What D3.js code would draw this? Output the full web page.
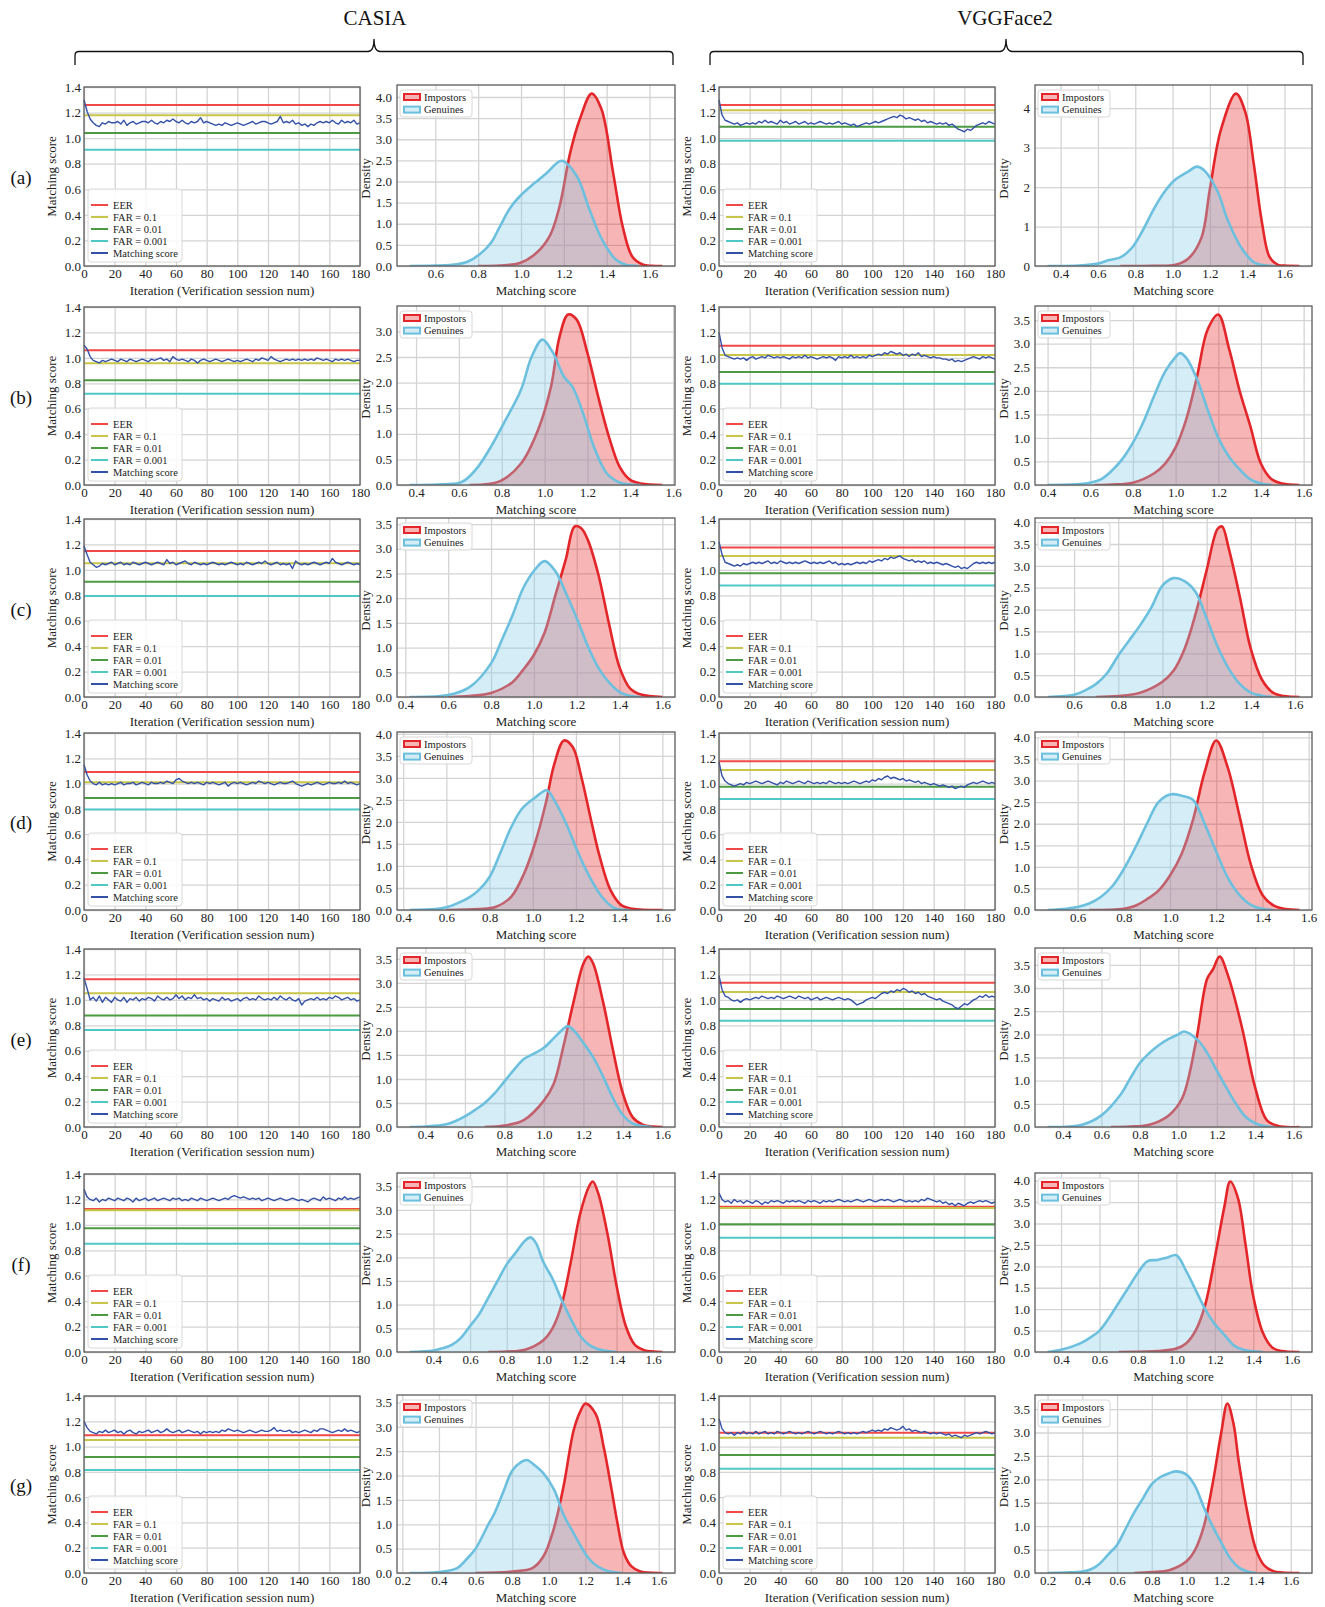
<!DOCTYPE html>
<html>
<head>
<meta charset="utf-8">
<script src="https://cdn.jsdelivr.net/npm/d3@7"></script>
<style>
  body { margin: 0; background: #fff; }
  svg { display: block; }
</style>
</head>
<body>
<svg id="canvas"></svg>
<script>
// ---------- data ----------
const rowNames = ["(a)", "(b)", "(c)", "(d)", "(e)", "(f)", "(g)"];
const datasetNames = ["CASIA", "VGGFace2"];
const iterTicks = [0, 20, 40, 60, 80, 100, 120, 140, 160, 180];
const scoreTicks = [0, 0.2, 0.4, 0.6, 0.8, 1.0, 1.2, 1.4];
const legendNames = ["EER", "FAR = 0.1", "FAR = 0.01", "FAR = 0.001", "Matching score"];
const densityNames = ["Impostors", "Genuines"];

// thresholds per row: [EER, FAR=0.1, FAR=0.01, FAR=0.001]
const casiaThresholds = [
  [1.26, 1.18, 1.04, 0.91],
  [1.06, 0.957, 0.824, 0.718],
  [1.149, 1.052, 0.907, 0.795],
  [1.092, 1.011, 0.885, 0.795],
  [1.162, 1.052, 0.876, 0.763],
  [1.125, 1.115, 0.973, 0.852],
  [1.089, 1.052, 0.918, 0.815],
];
const vggThresholds = [
  [1.259, 1.218, 1.089, 0.98],
  [1.096, 1.023, 0.889, 0.797],
  [1.175, 1.109, 0.973, 0.876],
  [1.177, 1.108, 0.974, 0.877],
  [1.135, 1.062, 0.928, 0.836],
  [1.143, 1.133, 1.005, 0.899],
  [1.11, 1.07, 0.934, 0.825],
];

// matching score, every 2nd verification session (0..180)
const casiaScores = [
  [1.30,1.21,1.15,1.12,1.10,1.09,1.12,1.11,1.13,1.12,1.12,1.13,1.11,1.14,1.10,1.12,1.13,1.11,1.12,1.13,1.13,1.12,1.14,1.12,1.11,1.13,1.12,1.14,1.13,1.15,1.13,1.12,1.14,1.12,1.11,1.13,1.12,1.13,1.16,1.12,1.13,1.12,1.11,1.10,1.11,1.10,1.12,1.11,1.10,1.11,1.12,1.11,1.10,1.11,1.12,1.13,1.11,1.12,1.13,1.13,1.12,1.11,1.12,1.13,1.17,1.12,1.13,1.12,1.14,1.11,1.12,1.10,1.11,1.09,1.11,1.10,1.12,1.13,1.12,1.13,1.12,1.14,1.12,1.11,1.14,1.12,1.13,1.12,1.14,1.11,1.12],
  [1.10,1.07,1.01,0.98,0.97,0.96,0.98,0.97,0.98,0.99,0.98,0.97,0.99,0.98,0.97,0.99,0.98,0.97,0.98,0.99,0.98,0.97,0.99,0.98,0.99,1.00,0.98,0.99,0.97,1.01,0.99,0.98,0.99,0.98,0.97,0.99,0.98,0.96,0.98,0.99,0.98,0.97,0.98,0.99,0.98,0.97,0.98,0.99,0.98,0.97,0.98,0.97,0.98,0.99,0.98,0.97,0.99,0.98,1.00,0.99,0.98,1.01,0.99,0.98,0.97,0.98,0.99,0.98,0.99,0.98,0.99,0.98,0.99,0.98,0.99,0.98,1.00,0.99,0.98,0.99,0.98,0.97,0.99,0.98,0.99,0.98,0.99,0.98,0.97,0.98,0.98],
  [1.19,1.12,1.06,1.04,1.02,1.03,1.05,1.04,1.05,1.06,1.04,1.05,1.06,1.04,1.05,1.04,1.06,1.05,1.04,1.05,1.06,1.05,1.04,1.05,1.06,1.05,1.04,1.08,1.05,1.06,1.04,1.05,1.06,1.07,1.05,1.04,1.06,1.05,1.04,1.05,1.04,1.05,1.06,1.05,1.04,1.05,1.04,1.05,1.06,1.05,1.04,1.05,1.04,1.06,1.05,1.04,1.05,1.06,1.05,1.07,1.05,1.04,1.05,1.06,1.04,1.05,1.04,1.05,1.01,1.07,1.05,1.04,1.05,1.04,1.05,1.06,1.05,1.04,1.05,1.06,1.05,1.09,1.06,1.05,1.04,1.05,1.06,1.05,1.04,1.05,1.04],
  [1.15,1.07,1.02,1.00,0.99,1.01,0.99,1.00,0.99,1.00,0.99,1.00,1.01,0.99,1.00,1.00,1.01,0.99,1.00,1.01,1.00,0.99,1.01,1.00,1.00,1.01,1.00,1.02,1.01,1.00,1.03,1.04,1.02,1.01,1.00,1.01,1.00,1.01,1.00,0.99,1.01,1.00,1.01,1.00,0.99,1.00,1.01,0.98,1.00,1.01,1.00,1.01,1.00,0.99,1.00,1.01,1.00,1.02,1.01,1.00,1.01,1.00,0.99,1.00,1.01,1.00,1.00,1.01,1.02,1.00,0.99,0.98,0.99,1.00,0.99,1.00,1.01,1.00,0.99,1.00,1.01,1.00,1.00,1.01,1.00,1.02,1.00,1.01,1.00,0.99,1.00],
  [1.17,1.09,1.00,1.02,0.99,1.03,0.98,1.02,1.00,0.98,1.02,1.00,0.99,1.02,0.98,1.01,1.00,1.02,0.99,1.01,1.00,1.02,1.01,0.99,1.03,1.01,1.00,1.02,1.00,1.01,1.04,1.01,1.03,1.00,1.02,1.01,1.04,1.01,1.02,1.00,1.01,0.99,1.01,1.00,0.99,1.02,1.00,1.01,0.99,1.00,1.01,0.99,1.01,1.02,1.00,1.01,1.00,1.03,1.01,1.00,1.01,1.00,1.02,1.00,1.03,1.01,1.00,1.02,1.00,0.99,1.01,0.96,0.99,1.00,1.01,1.00,1.02,1.00,1.01,1.00,1.02,1.01,1.03,1.02,1.00,1.01,1.02,1.00,1.01,0.99,1.00],
  [1.28,1.22,1.20,1.19,1.21,1.18,1.20,1.19,1.21,1.20,1.19,1.21,1.20,1.19,1.21,1.20,1.18,1.21,1.19,1.20,1.21,1.19,1.20,1.21,1.19,1.20,1.21,1.20,1.19,1.21,1.20,1.21,1.19,1.20,1.19,1.21,1.20,1.19,1.21,1.20,1.19,1.20,1.21,1.20,1.19,1.20,1.21,1.20,1.22,1.23,1.22,1.21,1.22,1.21,1.20,1.21,1.20,1.21,1.19,1.20,1.21,1.20,1.19,1.20,1.21,1.20,1.19,1.20,1.21,1.20,1.19,1.20,1.19,1.18,1.20,1.21,1.20,1.19,1.22,1.20,1.21,1.20,1.19,1.21,1.20,1.22,1.20,1.21,1.20,1.21,1.22],
  [1.20,1.15,1.12,1.11,1.10,1.12,1.11,1.13,1.11,1.12,1.13,1.11,1.12,1.10,1.12,1.13,1.11,1.10,1.12,1.11,1.12,1.13,1.11,1.12,1.13,1.11,1.12,1.14,1.12,1.11,1.12,1.13,1.11,1.12,1.13,1.12,1.11,1.12,1.10,1.12,1.11,1.12,1.11,1.12,1.11,1.13,1.12,1.14,1.13,1.12,1.13,1.12,1.11,1.12,1.13,1.12,1.11,1.12,1.13,1.12,1.12,1.13,1.15,1.12,1.13,1.12,1.12,1.13,1.11,1.12,1.11,1.12,1.13,1.12,1.11,1.13,1.12,1.14,1.14,1.13,1.12,1.11,1.12,1.13,1.12,1.14,1.12,1.13,1.12,1.11,1.12],
];
const vggScores = [
  [1.30,1.18,1.14,1.13,1.12,1.11,1.12,1.10,1.11,1.12,1.11,1.12,1.11,1.13,1.12,1.14,1.12,1.13,1.12,1.11,1.14,1.12,1.13,1.11,1.12,1.13,1.11,1.12,1.13,1.11,1.12,1.11,1.12,1.13,1.12,1.11,1.12,1.11,1.12,1.13,1.11,1.12,1.11,1.10,1.11,1.09,1.10,1.11,1.12,1.11,1.12,1.13,1.12,1.13,1.14,1.15,1.16,1.17,1.16,1.18,1.17,1.15,1.16,1.15,1.14,1.15,1.13,1.14,1.12,1.13,1.12,1.11,1.12,1.11,1.12,1.10,1.11,1.09,1.07,1.06,1.05,1.07,1.06,1.08,1.10,1.11,1.12,1.11,1.13,1.12,1.11],
  [1.20,1.08,1.02,1.01,1.00,0.99,1.00,0.99,1.00,0.98,1.00,1.01,0.99,1.00,1.01,1.00,1.02,1.01,1.00,1.01,1.00,1.01,1.00,0.99,1.01,1.00,1.01,1.00,1.02,1.00,1.01,1.00,0.99,1.00,1.01,1.00,1.01,1.00,0.98,1.01,1.00,1.01,1.00,1.02,1.00,1.01,1.00,1.01,1.00,1.02,1.01,1.02,1.03,1.02,1.04,1.03,1.05,1.04,1.03,1.04,1.02,1.03,1.01,1.03,1.02,1.04,1.01,1.02,1.01,1.00,1.01,1.00,1.00,0.99,0.99,0.98,0.99,0.97,0.98,0.97,0.98,0.99,1.00,1.01,1.00,0.99,1.01,1.00,1.01,1.00,0.99],
  [1.22,1.12,1.06,1.05,1.04,1.03,1.04,1.03,1.05,1.04,1.05,1.06,1.05,1.06,1.05,1.06,1.07,1.05,1.06,1.05,1.07,1.06,1.05,1.06,1.05,1.06,1.05,1.06,1.07,1.06,1.05,1.06,1.05,1.06,1.05,1.06,1.07,1.05,1.06,1.04,1.05,1.04,1.05,1.04,1.05,1.06,1.05,1.06,1.05,1.07,1.06,1.07,1.08,1.07,1.09,1.08,1.10,1.09,1.10,1.11,1.09,1.08,1.07,1.08,1.06,1.07,1.06,1.07,1.05,1.06,1.05,1.06,1.05,1.04,1.05,1.04,1.03,1.02,1.03,1.01,1.02,1.01,1.03,1.05,1.06,1.05,1.06,1.05,1.06,1.05,1.06],
  [1.17,1.06,1.02,1.00,0.99,0.98,0.99,1.00,0.99,1.01,1.00,1.01,1.02,1.01,1.00,1.01,1.02,1.01,1.00,0.99,1.01,1.00,1.02,1.01,1.00,1.01,1.02,1.01,1.00,1.02,1.01,1.00,1.01,1.00,1.01,1.00,1.02,1.01,1.00,1.01,1.00,1.01,1.00,1.01,1.02,1.01,1.00,1.01,1.02,1.01,1.03,1.02,1.04,1.03,1.05,1.06,1.04,1.05,1.04,1.03,1.04,1.02,1.03,1.02,1.01,1.02,1.00,1.01,1.00,0.99,1.00,0.99,0.98,0.99,0.98,0.97,0.98,0.96,0.97,0.98,0.97,0.99,1.00,1.01,1.00,1.01,1.02,1.01,1.00,1.01,1.00],
  [1.19,1.08,1.03,1.02,1.00,0.99,1.00,0.98,1.00,1.01,1.00,1.01,1.02,1.01,1.03,1.02,1.01,1.02,1.01,1.03,1.02,1.01,1.02,1.03,1.02,1.01,1.03,1.02,1.01,1.02,1.00,1.01,1.02,1.00,1.01,1.02,1.01,1.00,1.01,1.02,1.01,1.00,1.01,1.00,0.98,0.96,0.97,0.98,1.00,1.01,1.02,1.01,1.03,1.05,1.06,1.05,1.07,1.06,1.08,1.07,1.09,1.08,1.06,1.07,1.05,1.06,1.04,1.05,1.03,1.02,1.01,1.00,1.01,0.99,0.98,0.97,0.96,0.94,0.93,0.95,0.97,0.96,0.98,1.00,1.01,1.03,1.02,1.04,1.02,1.03,1.02],
  [1.25,1.20,1.18,1.19,1.17,1.20,1.18,1.19,1.17,1.19,1.18,1.17,1.19,1.18,1.16,1.18,1.17,1.19,1.18,1.19,1.18,1.17,1.19,1.18,1.19,1.18,1.19,1.18,1.17,1.19,1.18,1.19,1.18,1.17,1.19,1.18,1.19,1.18,1.19,1.20,1.19,1.18,1.19,1.18,1.19,1.20,1.19,1.18,1.19,1.20,1.19,1.18,1.19,1.20,1.19,1.20,1.19,1.18,1.19,1.20,1.19,1.18,1.19,1.18,1.19,1.18,1.20,1.19,1.21,1.20,1.19,1.18,1.19,1.17,1.18,1.16,1.17,1.15,1.17,1.16,1.15,1.17,1.18,1.17,1.18,1.19,1.18,1.19,1.18,1.17,1.18],
  [1.22,1.14,1.11,1.10,1.11,1.09,1.11,1.10,1.12,1.10,1.11,1.10,1.12,1.10,1.11,1.12,1.10,1.11,1.10,1.12,1.11,1.10,1.11,1.12,1.11,1.10,1.11,1.10,1.11,1.12,1.11,1.10,1.11,1.12,1.11,1.10,1.11,1.10,1.11,1.12,1.11,1.10,1.11,1.10,1.11,1.10,1.11,1.12,1.11,1.12,1.13,1.12,1.13,1.12,1.14,1.13,1.15,1.14,1.13,1.14,1.16,1.13,1.14,1.12,1.13,1.12,1.11,1.12,1.11,1.10,1.11,1.10,1.11,1.10,1.09,1.10,1.08,1.09,1.08,1.07,1.09,1.08,1.09,1.10,1.11,1.10,1.11,1.12,1.11,1.10,1.11],
];

// density curves: [matching score, density]
const casiaImpostors = [
  [[0.8,0],[0.9,0.01],[0.995,0.07],[1.07,0.3],[1.135,0.72],[1.18,1.41],[1.23,2.69],[1.275,3.48],[1.33,4.08],[1.375,3.72],[1.43,2.21],[1.475,0.93],[1.52,0.22],[1.57,0.03],[1.61,0.005],[1.66,0]],
  [[0.65,0],[0.79,0.07],[0.89,0.42],[0.97,1.08],[1.03,1.92],[1.07,2.9],[1.11,3.33],[1.15,3.23],[1.2,2.58],[1.25,1.73],[1.3,0.95],[1.35,0.36],[1.4,0.1],[1.45,0.03],[1.55,0]],
  [[0.6,0],[0.7,0.02],[0.8,0.08],[0.9,0.3],[0.95,0.55],[1.0,0.85],[1.05,1.3],[1.1,2.05],[1.15,2.8],[1.19,3.45],[1.22,3.42],[1.25,3.2],[1.3,2.5],[1.35,1.5],[1.4,0.6],[1.45,0.17],[1.5,0.05],[1.6,0]],
  [[0.6,0],[0.75,0.02],[0.83,0.075],[0.9,0.3],[0.96,0.83],[1.01,1.51],[1.06,2.42],[1.1,3.32],[1.145,3.85],[1.185,3.7],[1.225,3.02],[1.27,2.04],[1.31,1.21],[1.36,0.45],[1.41,0.11],[1.46,0.03],[1.6,0]],
  [[0.7,0],[0.8,0.03],[0.9,0.15],[1.0,0.55],[1.05,0.9],[1.1,1.7],[1.15,2.6],[1.2,3.4],[1.225,3.55],[1.25,3.4],[1.3,2.6],[1.35,1.6],[1.4,0.7],[1.45,0.2],[1.5,0.05],[1.55,0.01],[1.6,0]],
  [[0.7,0],[0.8,0.01],[0.9,0.05],[1.0,0.25],[1.05,0.5],[1.1,1.0],[1.15,1.9],[1.2,2.9],[1.25,3.5],[1.27,3.6],[1.3,3.35],[1.35,2.5],[1.4,1.4],[1.45,0.55],[1.5,0.15],[1.55,0.04],[1.6,0.01],[1.65,0]],
  [[0.6,0],[0.8,0.03],[0.91,0.1],[0.97,0.34],[1.025,0.88],[1.08,1.77],[1.135,2.92],[1.17,3.3],[1.2,3.48],[1.255,3.27],[1.3,2.58],[1.34,1.77],[1.375,1.02],[1.41,0.41],[1.45,0.14],[1.5,0.03],[1.62,0]],
];
const casiaGenuines = [
  [[0.48,0],[0.6,0.01],[0.7,0.04],[0.75,0.1],[0.81,0.29],[0.86,0.55],[0.9,0.92],[0.95,1.38],[1.0,1.68],[1.06,1.95],[1.12,2.2],[1.19,2.49],[1.26,2.13],[1.32,1.33],[1.38,0.61],[1.445,0.14],[1.49,0.03],[1.55,0]],
  [[0.37,0],[0.5,0.01],[0.6,0.04],[0.63,0.1],[0.69,0.36],[0.75,0.75],[0.81,1.21],[0.89,1.86],[0.94,2.51],[0.99,2.84],[1.04,2.58],[1.09,2.12],[1.13,1.92],[1.18,1.4],[1.23,0.75],[1.29,0.23],[1.35,0.05],[1.4,0.01],[1.45,0]],
  [[0.42,0],[0.6,0.04],[0.7,0.2],[0.8,0.68],[0.85,1.15],[0.9,1.65],[0.95,2.2],[1.0,2.55],[1.05,2.75],[1.1,2.55],[1.15,2.1],[1.2,1.6],[1.25,1.05],[1.3,0.6],[1.35,0.3],[1.4,0.1],[1.45,0.02],[1.5,0]],
  [[0.43,0],[0.55,0.02],[0.6,0.06],[0.65,0.15],[0.71,0.3],[0.75,0.45],[0.8,0.75],[0.85,1.3],[0.9,1.88],[0.95,2.3],[1.01,2.55],[1.065,2.72],[1.1,2.49],[1.155,1.96],[1.205,1.36],[1.255,0.83],[1.32,0.3],[1.38,0.04],[1.45,0]],
  [[0.32,0],[0.4,0.01],[0.5,0.05],[0.55,0.12],[0.6,0.22],[0.65,0.35],[0.7,0.5],[0.75,0.7],[0.8,0.95],[0.85,1.2],[0.9,1.42],[0.95,1.53],[1.0,1.65],[1.05,1.85],[1.1,2.05],[1.12,2.1],[1.15,2.02],[1.2,1.75],[1.25,1.45],[1.3,1.05],[1.35,0.6],[1.4,0.25],[1.45,0.07],[1.5,0.02],[1.55,0]],
  [[0.27,0],[0.4,0.03],[0.45,0.08],[0.5,0.15],[0.55,0.3],[0.6,0.55],[0.65,0.8],[0.7,1.15],[0.75,1.5],[0.8,1.85],[0.85,2.1],[0.9,2.35],[0.93,2.42],[0.96,2.3],[1.0,1.9],[1.05,1.55],[1.1,1.1],[1.15,0.7],[1.2,0.35],[1.25,0.15],[1.3,0.06],[1.35,0.02],[1.4,0]],
  [[0.24,0],[0.4,0.02],[0.5,0.1],[0.55,0.28],[0.6,0.5],[0.67,1.0],[0.7,1.2],[0.75,1.65],[0.8,2.1],[0.85,2.28],[0.88,2.32],[0.92,2.22],[0.97,2.05],[1.03,1.7],[1.08,1.2],[1.135,0.82],[1.21,0.34],[1.25,0.18],[1.3,0.07],[1.35,0.02],[1.4,0]],
];
const vggImpostors = [
  [[0.72,0],[0.9,0.005],[1.015,0.03],[1.085,0.19],[1.155,0.72],[1.2,1.95],[1.26,3.47],[1.34,4.37],[1.39,3.9],[1.435,2.6],[1.48,1.08],[1.52,0.23],[1.565,0.03],[1.6,0.01],[1.68,0]],
  [[0.62,0],[0.7,0.01],[0.8,0.05],[0.9,0.25],[0.95,0.45],[1.0,0.8],[1.05,1.4],[1.1,2.3],[1.15,3.3],[1.2,3.62],[1.25,2.9],[1.3,2.0],[1.35,1.25],[1.4,0.45],[1.45,0.12],[1.5,0.03],[1.58,0]],
  [[0.7,0],[0.8,0.02],[0.9,0.1],[1.0,0.35],[1.05,0.6],[1.1,1.1],[1.15,1.9],[1.2,2.9],[1.25,3.85],[1.27,3.9],[1.3,3.4],[1.35,2.3],[1.4,1.1],[1.45,0.4],[1.5,0.1],[1.55,0.02],[1.62,0]],
  [[0.65,0],[0.8,0.03],[0.85,0.1],[0.9,0.25],[0.95,0.45],[1.0,0.8],[1.05,1.3],[1.1,2.1],[1.15,3.2],[1.2,3.93],[1.25,3.3],[1.3,2.2],[1.35,1.05],[1.4,0.35],[1.45,0.1],[1.5,0.02],[1.56,0]],
  [[0.65,0],[0.75,0.01],[0.85,0.05],[0.95,0.25],[1.02,0.62],[1.09,1.8],[1.15,3.2],[1.18,3.4],[1.215,3.68],[1.26,3.25],[1.33,2.17],[1.4,0.85],[1.46,0.15],[1.52,0.02],[1.63,0]],
  [[0.7,0],[0.9,0.02],[1.0,0.08],[1.05,0.2],[1.1,0.5],[1.15,1.1],[1.2,2.2],[1.25,3.4],[1.28,3.98],[1.32,3.6],[1.36,2.5],[1.4,1.3],[1.45,0.45],[1.5,0.1],[1.55,0.02],[1.64,0]],
  [[0.7,0],[0.8,0.02],[0.9,0.06],[1.0,0.25],[1.05,0.5],[1.1,1.0],[1.15,1.9],[1.2,3.0],[1.235,3.62],[1.27,3.2],[1.3,2.4],[1.35,1.3],[1.4,0.5],[1.45,0.15],[1.5,0.04],[1.55,0.01],[1.65,0]],
];
const vggGenuines = [
  [[0.33,0],[0.5,0.01],[0.6,0.06],[0.66,0.15],[0.72,0.22],[0.78,0.45],[0.84,0.9],[0.9,1.45],[0.96,1.9],[1.015,2.19],[1.085,2.4],[1.13,2.52],[1.175,2.4],[1.245,1.85],[1.295,1.17],[1.365,0.49],[1.435,0.1],[1.5,0.01],[1.55,0]],
  [[0.4,0],[0.55,0.02],[0.6,0.05],[0.65,0.12],[0.7,0.3],[0.75,0.55],[0.8,0.9],[0.85,1.35],[0.9,1.9],[0.95,2.4],[1.0,2.72],[1.02,2.8],[1.05,2.7],[1.1,2.25],[1.15,1.6],[1.2,1.0],[1.25,0.6],[1.3,0.33],[1.35,0.12],[1.4,0.03],[1.45,0]],
  [[0.48,0],[0.6,0.05],[0.65,0.15],[0.7,0.3],[0.75,0.55],[0.8,0.95],[0.85,1.3],[0.9,1.65],[0.95,2.05],[1.0,2.55],[1.05,2.72],[1.1,2.65],[1.15,2.4],[1.2,1.8],[1.25,1.15],[1.3,0.65],[1.35,0.3],[1.4,0.1],[1.45,0.03],[1.5,0]],
  [[0.47,0],[0.55,0.03],[0.6,0.07],[0.65,0.15],[0.7,0.3],[0.75,0.55],[0.8,0.95],[0.85,1.45],[0.9,2.0],[0.95,2.5],[1.0,2.68],[1.05,2.65],[1.1,2.55],[1.15,2.0],[1.2,1.35],[1.25,0.75],[1.3,0.35],[1.35,0.12],[1.4,0.03],[1.45,0]],
  [[0.32,0],[0.5,0.05],[0.6,0.25],[0.7,0.7],[0.75,1.05],[0.8,1.38],[0.85,1.6],[0.9,1.77],[0.95,1.9],[1.0,2.0],[1.03,2.06],[1.1,1.88],[1.15,1.6],[1.2,1.22],[1.25,0.85],[1.3,0.5],[1.35,0.22],[1.4,0.08],[1.45,0.02],[1.5,0]],
  [[0.33,0],[0.4,0.05],[0.5,0.2],[0.55,0.33],[0.6,0.5],[0.65,0.8],[0.7,1.15],[0.75,1.5],[0.8,1.85],[0.85,2.12],[0.9,2.15],[0.95,2.2],[1.0,2.26],[1.05,1.9],[1.1,1.45],[1.15,1.0],[1.2,0.65],[1.25,0.4],[1.3,0.15],[1.35,0.05],[1.45,0]],
  [[0.2,0],[0.3,0.01],[0.4,0.03],[0.45,0.08],[0.5,0.2],[0.55,0.4],[0.6,0.6],[0.65,0.95],[0.7,1.3],[0.75,1.6],[0.8,1.9],[0.85,2.05],[0.9,2.13],[0.94,2.17],[1.0,2.1],[1.05,1.85],[1.1,1.4],[1.15,1.0],[1.2,0.65],[1.25,0.32],[1.3,0.12],[1.35,0.03],[1.4,0]],
];
// density tick step per row
const casiaDensityStep = [0.5, 0.5, 0.5, 0.5, 0.5, 0.5, 0.5];
const vggDensityStep = [1, 0.5, 0.5, 0.5, 0.5, 0.5, 0.5];

// ---------- layout ----------
const width = 1325;
const height = 1607;
const serif = '"Liberation Serif", "DejaVu Serif", serif';
const lineTops = [87, 307, 519, 733, 949, 1174, 1396];
const lineBottoms = [266, 485, 697, 910, 1127, 1352, 1573];
const densTops = [85, 306, 518, 732, 948, 1173, 1395];
const lineCols = [[84, 360], [719, 995]];
const densCols = [[397, 675], [1035, 1312]];

const gridColor = "#d4d4d4";
const frameColor = "#5c5c5c";
const textColor = "#222";
const lineColors = ["#f24848", "#c8c64a", "#4c9a42", "#4fc8c6", "#3451a8"];
const impColor = "#e3262a";
const impFill = "#e8262a";
const genColor = "#6cc0de";
const genFill = "#87cdea";

const canvas = d3.select("#canvas").attr("width", width).attr("height", height);
canvas.append("rect").attr("width", width).attr("height", height).attr("fill", "#fff");

const styleAxis = (a) => {
  a.attr("font-family", serif).attr("font-size", 13);
  a.select(".domain").remove();
  a.selectAll(".tick line").attr("stroke", gridColor).attr("stroke-width", 1.3);
  a.selectAll(".tick text").attr("fill", textColor);
};

const drawFrame = (g, x0, x1, y0, y1) => {
  g.append("rect")
    .attr("x", x0).attr("y", y0)
    .attr("width", x1 - x0).attr("height", y1 - y0)
    .attr("fill", "none").attr("stroke", frameColor).attr("stroke-width", 1.3);
};

const drawLinePanel = (x0, x1, y0, y1, thresholds, scores) => {
  const g = canvas.append("g");
  const xScale = d3.scaleLinear().domain([0, 180]).range([x0, x1]);
  const yScale = d3.scaleLinear().domain([0, 1.4]).range([y1, y0]);

  g.append("g")
    .attr("transform", `translate(0, ${y1})`)
    .call(d3.axisBottom(xScale).tickValues(iterTicks).tickSize(-(y1 - y0)).tickPadding(3).tickFormat(d3.format("d")))
    .call(styleAxis);
  g.append("g")
    .attr("transform", `translate(${x0}, 0)`)
    .call(d3.axisLeft(yScale).tickValues(scoreTicks).tickSize(-(x1 - x0)).tickPadding(3).tickFormat(d3.format(".1f")))
    .call(styleAxis);

  thresholds.forEach((t, i) => {
    g.append("path")
      .datum([0, 180])
      .attr("d", d3.line().x((d) => xScale(d)).y(() => yScale(t)))
      .attr("stroke", lineColors[i]).attr("stroke-width", 2).attr("fill", "none");
  });

  const n = scores.length;
  g.append("path")
    .datum(scores)
    .attr("d", d3.line().x((d, i) => xScale((i * 180) / (n - 1))).y((d) => yScale(d)))
    .attr("stroke", lineColors[4]).attr("stroke-width", 1.4).attr("fill", "none")
    .attr("stroke-linejoin", "round");

  drawFrame(g, x0, x1, y0, y1);

  // legend
  const lg = g.append("g").attr("transform", `translate(${x0 + 4}, ${y1 - 77})`);
  lg.append("rect").attr("width", 94).attr("height", 73).attr("rx", 3)
    .attr("fill", "#fff").attr("fill-opacity", 0.85).attr("stroke", "#d8d8d8");
  legendNames.forEach((name, i) => {
    const cy = 16 + i * 12;
    lg.append("line").attr("x1", 3).attr("x2", 20).attr("y1", cy).attr("y2", cy)
      .attr("stroke", lineColors[i]).attr("stroke-width", 2);
    lg.append("text").attr("x", 25).attr("y", cy).attr("dy", "0.35em")
      .attr("font-family", serif).attr("font-size", 10.5).attr("fill", textColor).text(name);
  });

  g.append("text")
    .attr("transform", `translate(${x0 - 33}, ${(y0 + y1) / 2}) rotate(-90)`)
    .attr("text-anchor", "middle").attr("dy", "0.35em")
    .attr("font-family", serif).attr("font-size", 13).attr("fill", textColor)
    .text("Matching score");
  g.append("text")
    .attr("x", (x0 + x1) / 2).attr("y", y1 + 24).attr("dy", "0.35em")
    .attr("text-anchor", "middle")
    .attr("font-family", serif).attr("font-size", 13).attr("fill", textColor)
    .text("Iteration (Verification session num)");
};

const drawDensityPanel = (x0, x1, y0, y1, impostors, genuines, step) => {
  const g = canvas.append("g");
  const all = impostors.concat(genuines);
  const ext = d3.extent(all, (d) => d[0]);
  const pad = (ext[1] - ext[0]) * 0.05;
  const xScale = d3.scaleLinear().domain([ext[0] - pad, ext[1] + pad]).range([x0, x1]);
  const yMax = d3.max(all, (d) => d[1]) * 1.05;
  const yScale = d3.scaleLinear().domain([0, yMax]).range([y1, y0]);

  const dom = xScale.domain();
  const xTicks = d3.range(Math.ceil(dom[0] * 5 - 1e-9), Math.floor(dom[1] * 5 + 1e-9) + 1).map((k) => k / 5);
  const yTicks = d3.range(0, yMax + 1e-9, step);

  g.append("g")
    .attr("transform", `translate(0, ${y1})`)
    .call(d3.axisBottom(xScale).tickValues(xTicks).tickSize(-(y1 - y0)).tickPadding(3).tickFormat(d3.format(".1f")))
    .call(styleAxis);
  g.append("g")
    .attr("transform", `translate(${x0}, 0)`)
    .call(d3.axisLeft(yScale).tickValues(yTicks).tickSize(-(x1 - x0)).tickPadding(5)
      .tickFormat(step >= 1 ? d3.format("d") : d3.format(".1f")))
    .call(styleAxis);

  const curve = d3.curveCatmullRom.alpha(0.5);
  const area = d3.area().curve(curve)
    .x((d) => xScale(d[0])).y0(yScale(0)).y1((d) => yScale(Math.max(0, d[1])));
  const line = d3.line().curve(curve)
    .x((d) => xScale(d[0])).y((d) => yScale(d[1]));

  const clipId = `clip-${x0}-${y0}`;
  g.append("clipPath").attr("id", clipId)
    .append("rect").attr("x", x0).attr("y", y0).attr("width", x1 - x0).attr("height", y1 - y0);
  const plot = g.append("g").attr("clip-path", `url(#${clipId})`);

  [[impostors, impColor, impFill, 0.34], [genuines, genColor, genFill, 0.36]].forEach(([data, stroke, fill, op]) => {
    plot.append("path").datum(data).attr("d", area).attr("fill", fill).attr("fill-opacity", op);
    plot.append("path").datum(data).attr("d", line)
      .attr("stroke", stroke).attr("stroke-width", 2.6).attr("fill", "none").attr("stroke-linejoin", "round");
  });

  drawFrame(g, x0, x1, y0, y1);

  const lg = g.append("g").attr("transform", `translate(${x0 + 3}, ${y0 + 5})`);
  lg.append("rect").attr("width", 72).attr("height", 27).attr("rx", 3)
    .attr("fill", "#fff").attr("fill-opacity", 0.85).attr("stroke", "#d8d8d8");
  [[impColor, impFill, 0.34], [genColor, genFill, 0.36]].forEach(([stroke, fill, op], i) => {
    const cy = 7 + i * 12.6;
    lg.append("rect").attr("x", 4).attr("y", cy - 3).attr("width", 16).attr("height", 6)
      .attr("fill", fill).attr("fill-opacity", op).attr("stroke", stroke).attr("stroke-width", 2);
    lg.append("text").attr("x", 24).attr("y", cy).attr("dy", "0.35em")
      .attr("font-family", serif).attr("font-size", 10.5).attr("fill", textColor).text(densityNames[i]);
  });

  g.append("text")
    .attr("transform", `translate(${x0 - 32}, ${(y0 + y1) / 2 + 3}) rotate(-90)`)
    .attr("text-anchor", "middle").attr("dy", "0.35em")
    .attr("font-family", serif).attr("font-size", 13).attr("fill", textColor)
    .text("Density");
  g.append("text")
    .attr("x", (x0 + x1) / 2).attr("y", y1 + 24).attr("dy", "0.35em")
    .attr("text-anchor", "middle")
    .attr("font-family", serif).attr("font-size", 13).attr("fill", textColor)
    .text("Matching score");
};

const drawBrace = (xa, xb, xm, yLine, yEnd, yTip) => {
  const p = d3.path();
  p.moveTo(xa, yEnd);
  p.lineTo(xa, yLine + 4);
  p.quadraticCurveTo(xa, yLine, xa + 4, yLine);
  p.lineTo(xm - 6, yLine);
  p.quadraticCurveTo(xm, yLine, xm, yTip);
  p.quadraticCurveTo(xm, yLine, xm + 6, yLine);
  p.lineTo(xb - 4, yLine);
  p.quadraticCurveTo(xb, yLine, xb, yLine + 4);
  p.lineTo(xb, yEnd);
  canvas.append("path").attr("d", p.toString())
    .attr("fill", "none").attr("stroke", "#111").attr("stroke-width", 1.3);
};

// headers
const headerX = [375, 1005];
datasetNames.forEach((name, i) => {
  canvas.append("text")
    .attr("x", headerX[i]).attr("y", 18).attr("dy", "0.35em")
    .attr("text-anchor", "middle")
    .attr("font-family", serif).attr("font-size", 21).attr("fill", "#111")
    .text(name);
});
drawBrace(75, 673, 374, 51.5, 65, 39);
drawBrace(710, 1303, 1006, 51.5, 65, 39);

// panels
rowNames.forEach((label, r) => {
  drawLinePanel(lineCols[0][0], lineCols[0][1], lineTops[r], lineBottoms[r], casiaThresholds[r], casiaScores[r]);
  drawDensityPanel(densCols[0][0], densCols[0][1], densTops[r], lineBottoms[r], casiaImpostors[r], casiaGenuines[r], casiaDensityStep[r]);
  drawLinePanel(lineCols[1][0], lineCols[1][1], lineTops[r], lineBottoms[r], vggThresholds[r], vggScores[r]);
  drawDensityPanel(densCols[1][0], densCols[1][1], densTops[r], lineBottoms[r], vggImpostors[r], vggGenuines[r], vggDensityStep[r]);

  canvas.append("text")
    .attr("x", 21).attr("y", (lineTops[r] + lineBottoms[r]) / 2 + 1).attr("dy", "0.35em")
    .attr("text-anchor", "middle")
    .attr("font-family", serif).attr("font-size", 19).attr("fill", "#111")
    .text(label);
});
</script>
</body>
</html>
